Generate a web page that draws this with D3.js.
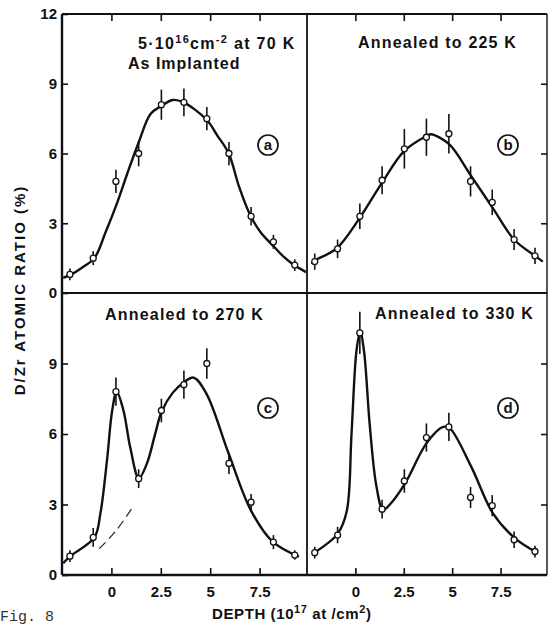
<!DOCTYPE html>
<html><head><meta charset="utf-8">
<script src="https://cdn.jsdelivr.net/npm/d3@7"></script>
<style>
body{margin:0;background:#fff;}
svg{display:block;}
text{font-family:"Liberation Sans","DejaVu Sans",sans-serif;fill:#111;}
</style></head><body>
<svg id="chart" width="549" height="626"></svg>
<script>
// ---- data ----
const depths = [-2.1, -0.92, 0.23, 1.38, 2.53, 3.67, 4.83, 5.95, 7.07, 8.2, 9.28];
const valsA = [0.8, 1.5, 4.8, 6.0, 8.1, 8.2, 7.5, 6.0, 3.3, 2.2, 1.2];
const errA  = [0.25, 0.3, 0.5, 0.55, 0.65, 0.6, 0.5, 0.5, 0.4, 0.3, 0.25];
const valsB = [1.35, 1.9, 3.3, 4.85, 6.2, 6.7, 6.85, 4.8, 3.9, 2.3, 1.6];
const errB  = [0.35, 0.4, 0.55, 0.6, 0.85, 0.8, 0.85, 0.65, 0.55, 0.45, 0.35];
const valsC = [0.8, 1.6, 7.8, 4.1, 7.0, 8.1, 9.0, 4.75, 3.1, 1.4, 0.85];
const errC  = [0.25, 0.4, 0.6, 0.4, 0.5, 0.6, 0.65, 0.45, 0.35, 0.3, 0.2];
const valsD = [0.95, 1.7, 10.3, 2.8, 4.0, 5.85, 6.3, 3.3, 2.95, 1.5, 1.0];
const errD  = [0.25, 0.35, 0.9, 0.4, 0.5, 0.6, 0.6, 0.45, 0.45, 0.35, 0.25];

// fitted curves: [depth, ratio]
const curveA = [[-2.44,0.65],[-2.03,0.8],[-1.47,1.1],[-0.86,1.5],[-0.3,2.6],[0.3,3.9],[0.81,5.15],[1.37,6.45],[1.98,7.7],[2.54,8.05],[3.1,8.3],[3.65,8.2],[4.82,7.45],[5.38,6.75],[5.94,6.0],[6.45,4.6],[7.0,3.4],[7.56,2.6],[8.22,2.0],[8.73,1.55],[9.24,1.2],[9.85,0.9]];
const curveB = [[-2.26,1.25],[-2.12,1.38],[-0.97,1.92],[0.2,3.2],[1.38,4.75],[2.52,6.1],[3.67,6.75],[3.9,6.83],[4.84,6.4],[5.95,5.07],[7.1,3.65],[8.22,2.28],[9.3,1.59],[9.68,1.35]];
const curveC = [[-2.44,0.5],[-2.08,0.8],[-0.86,1.6],[-0.56,2.6],[-0.22,4.9],[0.04,7.0],[0.27,7.8],[0.61,7.0],[0.96,5.4],[1.39,4.12],[1.8,4.75],[2.2,5.95],[2.54,6.95],[3.1,7.75],[3.64,8.18],[4.16,8.4],[4.82,7.7],[5.92,5.2],[7.06,2.75],[8.16,1.42],[9.49,0.78]];
const curveD = [[-2.12,0.95],[-0.92,1.75],[-0.45,2.7],[-0.2,6.0],[0.06,9.57],[0.25,10.35],[0.44,9.57],[0.75,6.3],[1.09,3.76],[1.43,2.77],[1.78,3.0],[2.57,3.9],[3.67,5.6],[4.53,6.3],[4.87,6.25],[5.99,4.6],[7.1,2.63],[8.22,1.58],[9.3,0.99]];
const dashC = [[-0.62,1.12],[0.2,1.85],[1.05,2.85]];

const xTicks = [0, 2.5, 5, 7.5];
const xTickLabels = ["0", "2.5", "5", "7.5"];
const yTicksTop = [0, 3, 6, 9, 12];
const yTicksBottom = [0, 3, 6, 9];

const panels = [
  {id:"a", vals:valsA, err:errA, curve:curveA, col:0, row:0},
  {id:"b", vals:valsB, err:errB, curve:curveB, col:1, row:0},
  {id:"c", vals:valsC, err:errC, curve:curveC, col:0, row:1, dash:dashC},
  {id:"d", vals:valsD, err:errD, curve:curveD, col:1, row:1}
];

// ---- layout ----
const svg = d3.select("#chart");
const L = 62, M = 307, R = 547, T = 14, H = 293, B = 575;
const xScales = [d3.scaleLinear().domain([-2.5, 9.9]).range([L, M]),
                 d3.scaleLinear().domain([-2.5, 9.9]).range([M, R])];
const yScales = [d3.scaleLinear().domain([0, 12]).range([H, T]),
                 d3.scaleLinear().domain([0, 12]).range([B, H])];

// frame
const frame = svg.append("g").attr("stroke","#111").attr("fill","none");
frame.append("line").attr("x1",L).attr("x2",R).attr("y1",T).attr("y2",T).attr("stroke-width",1.8);
frame.append("line").attr("x1",L).attr("x2",R).attr("y1",H).attr("y2",H).attr("stroke-width",1.8);
frame.append("line").attr("x1",L).attr("x2",R).attr("y1",B).attr("y2",B).attr("stroke-width",2.4);
frame.append("line").attr("x1",L).attr("x2",L).attr("y1",T).attr("y2",B).attr("stroke-width",2.4);
frame.append("line").attr("x1",M).attr("x2",M).attr("y1",T).attr("y2",B).attr("stroke-width",1.8);
frame.append("line").attr("x1",R).attr("x2",R).attr("y1",T).attr("y2",B).attr("stroke-width",1.4);

function styleAxis(g){
  g.select(".domain").remove();
  g.selectAll(".tick line").attr("stroke","#111").attr("stroke-width",1.6);
  g.selectAll(".tick text").attr("font-size",15).attr("font-weight","bold").style("fill","#111")
   .style("font-family","'Liberation Sans','DejaVu Sans',sans-serif");
}

xScales.forEach(xs => {
  svg.append("g").attr("transform",`translate(0,${T})`)
    .call(d3.axisTop(xs).tickValues(xTicks).tickSize(-7).tickFormat(""))
    .call(styleAxis);
  svg.append("g").attr("transform",`translate(0,${B})`)
    .call(d3.axisBottom(xs).tickValues(xTicks).tickSize(-7).tickPadding(11)
      .tickFormat((d,i) => xTickLabels[i]))
    .call(styleAxis);
});

svg.append("g").attr("transform",`translate(${L},0)`)
  .call(d3.axisLeft(yScales[0]).tickValues(yTicksTop).tickSize(-6).tickPadding(5).tickFormat(d3.format("d")))
  .call(styleAxis);
svg.append("g").attr("transform",`translate(${L},0)`)
  .call(d3.axisLeft(yScales[1]).tickValues(yTicksBottom).tickSize(-6).tickPadding(5).tickFormat(d3.format("d")))
  .call(styleAxis);
svg.append("g").attr("transform",`translate(${R},0)`)
  .call(d3.axisRight(yScales[0]).tickValues([3,6,9]).tickSize(-6).tickFormat(""))
  .call(styleAxis);
svg.append("g").attr("transform",`translate(${R},0)`)
  .call(d3.axisRight(yScales[1]).tickValues([3,6,9]).tickSize(-6).tickFormat(""))
  .call(styleAxis);

// panels
const line = d3.line().curve(d3.curveCatmullRom.alpha(0.5));
panels.forEach(p => {
  const x = xScales[p.col], y = yScales[p.row];
  const g = svg.append("g");
  g.append("path")
    .attr("d", line.x(d => x(d[0])).y(d => y(d[1]))(p.curve))
    .attr("fill","none").attr("stroke","#111").attr("stroke-width",2.4);
  if (p.dash){
    g.append("path")
      .attr("d", line.x(d => x(d[0])).y(d => y(d[1]))(p.dash))
      .attr("fill","none").attr("stroke","#222").attr("stroke-width",1.2)
      .attr("stroke-dasharray","9,5");
  }
  const pts = depths.map((d,i) => ({d, v:p.vals[i], e:p.err[i]}));
  g.selectAll("line.err").data(pts).join("line")
    .attr("x1",d=>x(d.d)).attr("x2",d=>x(d.d))
    .attr("y1",d=>y(d.v-d.e)).attr("y2",d=>y(d.v+d.e))
    .attr("stroke","#111").attr("stroke-width",1.6);
  g.selectAll("circle.pt").data(pts).join("circle")
    .attr("cx",d=>x(d.d)).attr("cy",d=>y(d.v)).attr("r",3)
    .attr("fill","#fff").attr("stroke","#111").attr("stroke-width",1.3);
  const cx = p.col===0 ? 268 : 508, cy = p.row===0 ? 145 : 408;
  g.append("circle").attr("cx",cx).attr("cy",cy).attr("r",10)
    .attr("fill","none").attr("stroke","#111").attr("stroke-width",1.7);
  g.append("text").attr("x",cx).attr("y",cy+5).attr("text-anchor","middle")
    .attr("font-size",15).attr("font-weight","bold").text(p.id);
});

// annotations
function superText(sel, parts){
  parts.forEach(pt => {
    const ts = sel.append("tspan").text(pt.t);
    if (pt.s) ts.attr("dy", pt.s).attr("font-size", 11);
    else if (pt.r) ts.attr("dy", pt.r);
  });
}
const a1 = svg.append("text").attr("x",138).attr("y",49).attr("font-size",16).attr("font-weight","bold").attr("letter-spacing",1.3);
superText(a1, [{t:"5\u00B710"},{t:"16",s:-6},{t:"cm",r:6},{t:"-2",s:-6},{t:" at  70 K",r:6}]);
svg.append("text").attr("x",128).attr("y",69).attr("font-size",16).attr("font-weight","bold").attr("letter-spacing",1).text("As  Implanted");
const annStyle = s => s.attr("font-size",16).attr("font-weight","bold").attr("letter-spacing",1.2);
svg.append("text").attr("x",358).attr("y",48).call(annStyle).text("Annealed  to  225 K");
svg.append("text").attr("x",105).attr("y",320).call(annStyle).text("Annealed  to  270 K");
svg.append("text").attr("x",375).attr("y",319).call(annStyle).text("Annealed  to  330 K");

// axis titles
svg.append("text").attr("transform","translate(25,290) rotate(-90)").attr("text-anchor","middle")
  .attr("font-size",15).attr("font-weight","bold").attr("letter-spacing",2).text("D/Zr  ATOMIC  RATIO (%)");
const xt = svg.append("text").attr("x",212).attr("y",619).attr("font-size",15).attr("font-weight","bold").attr("letter-spacing",0.6);
superText(xt, [{t:"DEPTH (10"},{t:"17",s:-6},{t:" at /cm",r:6},{t:"2",s:-6},{t:")",r:6}]);
svg.append("text").attr("x",0).attr("y",621).attr("font-size",15)
  .style("font-family","'Liberation Mono','DejaVu Sans Mono',monospace").style("fill","#333").text("Fig. 8");
</script>
</body></html>
